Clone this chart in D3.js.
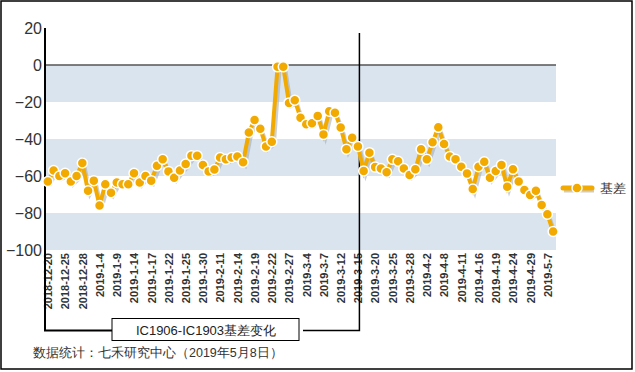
<!DOCTYPE html>
<html>
<head>
<meta charset="utf-8">
<script src="https://cdn.jsdelivr.net/npm/d3@7"></script>
<style>
  body { margin: 0; background: #fff; }
  svg { display: block; font-family: Arial, "Liberation Sans", sans-serif; }
</style>
</head>
<body>
<svg width="635" height="372"></svg>
<script>
const dates = [
  "2018-12-20","2018-12-21","2018-12-24","2018-12-25","2018-12-26","2018-12-27","2018-12-28",
  "2019-1-2","2019-1-3","2019-1-4","2019-1-7","2019-1-8","2019-1-9","2019-1-10","2019-1-11",
  "2019-1-14","2019-1-15","2019-1-16","2019-1-17","2019-1-18","2019-1-21","2019-1-22","2019-1-23",
  "2019-1-24","2019-1-25","2019-1-28","2019-1-29","2019-1-30","2019-1-31","2019-2-1",
  "2019-2-11","2019-2-12","2019-2-13","2019-2-14","2019-2-15","2019-2-18","2019-2-19","2019-2-20",
  "2019-2-21","2019-2-22","2019-2-25","2019-2-26","2019-2-27","2019-2-28","2019-3-1",
  "2019-3-4","2019-3-5","2019-3-6","2019-3-7","2019-3-8","2019-3-11","2019-3-12","2019-3-13",
  "2019-3-14","2019-3-15","2019-3-18","2019-3-19","2019-3-20","2019-3-21","2019-3-22",
  "2019-3-25","2019-3-26","2019-3-27","2019-3-28","2019-3-29","2019-4-1","2019-4-2","2019-4-3",
  "2019-4-4","2019-4-8","2019-4-9","2019-4-10","2019-4-11","2019-4-12","2019-4-15","2019-4-16",
  "2019-4-17","2019-4-18","2019-4-19","2019-4-22","2019-4-23","2019-4-24","2019-4-25","2019-4-26",
  "2019-4-29","2019-4-30","2019-5-6","2019-5-7","2019-5-8"
];

const basis = [
  -63, -57, -60, -58.5, -63, -60, -53, -68, -62.5, -76,
  -64.5, -69, -63.5, -64.5, -64.5, -58.5, -63.5, -60, -62.5, -54.5,
  -51, -57.5, -61, -57, -53.5, -49, -49, -54, -57.5, -56.5,
  -50, -51, -50, -49.5, -52.5, -36.5, -29.7, -34.5, -44, -41.5,
  -1, -1, -20.5, -19, -28.5, -32, -31.5, -27.5, -37.5, -25,
  -25.8, -33.8, -45.5, -39.3, -44, -57.3, -47.4, -55.2, -56, -58,
  -51, -52, -56, -59.5, -56.4, -45.6, -51, -41.8, -33.7, -42.7,
  -49.5, -51, -55, -58.6, -67, -55, -52.3, -61, -57.3, -54,
  -65.8, -56.4, -63, -67.6, -70.3, -68, -75.7, -80.7, -90
];

const yTicks = [20, 0, -20, -40, -60, -80, -100];
const bands = [[0, -20], [-40, -60], [-80, -100]];
const seriesName = "基差";
const boxTitle = "IC1906-IC1903基差变化";
const footer = "数据统计：七禾研究中心（2019年5月8日）";
const markerDate = "2019-3-15";

const svg = d3.select("svg");
const orange = "#f2a900";

const x = d3.scalePoint()
  .domain(dates)
  .range([45, 556])
  .padding(0.5);

const y = d3.scaleLinear()
  .domain([-100, 20])
  .range([250, 28]);

// outer frame
svg.append("rect")
  .attr("x", 1).attr("y", 1)
  .attr("width", 631).attr("height", 368)
  .attr("fill", "none")
  .attr("stroke", "#000")
  .attr("stroke-width", 1.5);

// alternating bands
svg.append("g").selectAll("rect")
  .data(bands)
  .join("rect")
  .attr("x", 45)
  .attr("width", 511)
  .attr("y", d => y(d[0]))
  .attr("height", d => y(d[1]) - y(d[0]))
  .attr("fill", "#dae4ef");

// zero line
svg.append("line")
  .attr("x1", 45).attr("x2", 556)
  .attr("y1", y(0)).attr("y2", y(0))
  .attr("stroke", "#555")
  .attr("stroke-width", 1.5);

// y axis
const yAxis = svg.append("g")
  .attr("transform", "translate(45,0)")
  .call(d3.axisLeft(y).tickValues(yTicks).tickSize(0).tickPadding(3));
yAxis.select(".domain").remove();
yAxis.selectAll("text")
  .attr("font-size", 16)
  .attr("font-family", "Arial, 'Liberation Sans', sans-serif")
  .attr("fill", "#333");

// x axis labels, every third day
const xAxis = svg.append("g")
  .attr("transform", "translate(0,250)")
  .call(d3.axisBottom(x)
    .tickValues(dates.filter((d, i) => i % 3 === 0))
    .tickSize(0));
xAxis.select(".domain").remove();
xAxis.selectAll("text")
  .attr("font-size", 11)
  .attr("font-weight", "bold")
  .attr("font-family", "Arial, 'Liberation Sans', sans-serif")
  .attr("fill", "#333")
  .attr("transform", "rotate(-90)")
  .attr("text-anchor", "end")
  .attr("dy", "0.35em")
  .attr("x", -3)
  .attr("y", 0);

// bracket: axis line running down, box and right vertical marker
const xm = x(markerDate) + 1.5;
svg.append("path")
  .attr("d", `M45,${y(20)}V330.5H112`)
  .attr("fill", "none").attr("stroke", "#000").attr("stroke-width", 2);
svg.append("path")
  .attr("d", `M303,330.5H${xm}V33`)
  .attr("fill", "none").attr("stroke", "#000").attr("stroke-width", 1.5);
svg.append("rect")
  .attr("x", 112).attr("y", 318.5)
  .attr("width", 187).attr("height", 22)
  .attr("fill", "#fff").attr("stroke", "#000").attr("stroke-width", 1);
svg.append("text")
  .attr("x", 206).attr("y", 335)
  .attr("text-anchor", "middle")
  .attr("font-size", 13)
  .attr("fill", "#222")
  .text(boxTitle);

// series
const line = d3.line()
  .x((d, i) => x(dates[i]))
  .y(d => y(d));

svg.append("path")
  .datum(basis)
  .attr("d", line)
  .attr("transform", "translate(2,3)")
  .attr("fill", "none")
  .attr("stroke", "#9aa3ad")
  .attr("stroke-opacity", 0.5)
  .attr("stroke-width", 4);

svg.append("path")
  .datum(basis)
  .attr("d", line)
  .attr("fill", "none")
  .attr("stroke", orange)
  .attr("stroke-width", 4);

svg.append("g").selectAll("circle")
  .data(basis)
  .join("circle")
  .attr("cx", (d, i) => x(dates[i]))
  .attr("cy", d => y(d))
  .attr("r", 5)
  .attr("fill", orange)
  .attr("stroke", "#fff")
  .attr("stroke-width", 1.5);

// legend
const lg = svg.append("g").attr("transform", "translate(0,188)");
lg.append("line")
  .attr("x1", 564).attr("x2", 594).attr("y1", 2).attr("y2", 2)
  .attr("stroke", "#ccc").attr("stroke-width", 5);
lg.append("line")
  .attr("x1", 563).attr("x2", 592).attr("y1", 0).attr("y2", 0)
  .attr("stroke", orange).attr("stroke-width", 5)
  .attr("stroke-linecap", "round");
lg.append("circle")
  .attr("cx", 577).attr("cy", 0).attr("r", 5)
  .attr("fill", orange).attr("stroke", "#fff").attr("stroke-width", 1.5);
lg.append("text")
  .attr("x", 600).attr("y", 5)
  .attr("font-size", 13)
  .attr("fill", "#333")
  .text(seriesName);

// footer
svg.append("text")
  .attr("x", 33).attr("y", 357)
  .attr("font-size", 12.5)
  .attr("fill", "#333")
  .text(footer);
</script>
</body>
</html>
